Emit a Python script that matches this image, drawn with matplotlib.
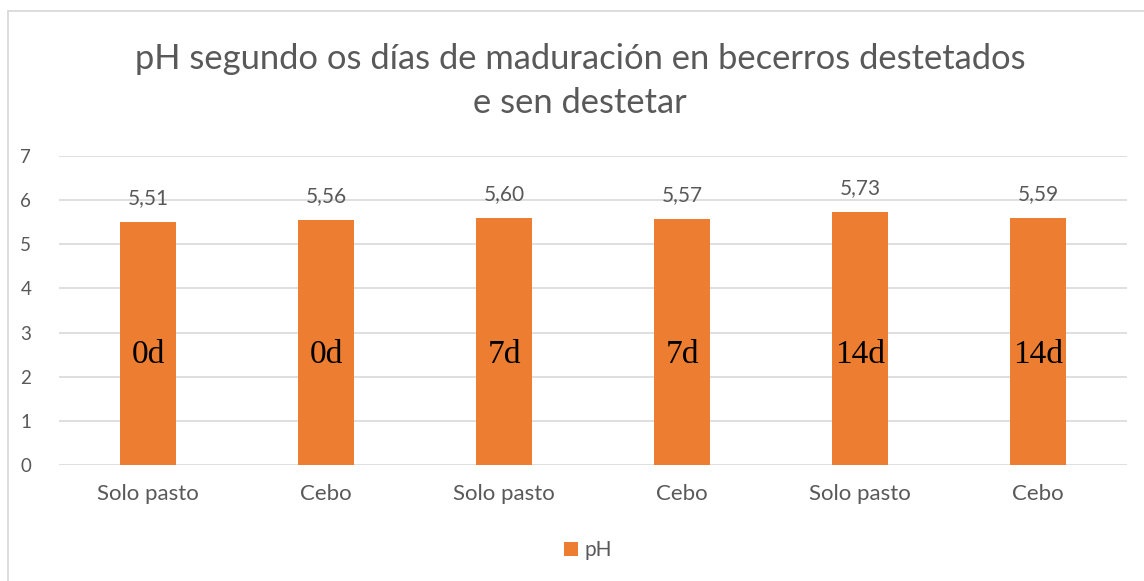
import matplotlib
matplotlib.use("Agg")
import matplotlib.pyplot as plt
from matplotlib.patches import Rectangle
from matplotlib import font_manager

categories = ["Solo pasto", "Cebo", "Solo pasto", "Cebo", "Solo pasto", "Cebo"]
ph_values = [5.51, 5.56, 5.60, 5.57, 5.73, 5.59]
day_labels = ["0d", "0d", "7d", "7d", "14d", "14d"]
series_name = "pH"
title_lines = ["pH segundo os días de maduración en becerros destetados", "e sen destetar"]

ORANGE = "#ED7D31"
TEXT = "#595959"
GRID = "#D9D9D9"

avail = {f.name for f in font_manager.fontManager.ttflist}
sans = "Lato" if "Lato" in avail else "DejaVu Sans"
serif = "Liberation Serif"

W, H = 1144, 581
fig = plt.figure(figsize=(W / 100, H / 100), dpi=100)
fig.patch.set_facecolor("white")

# chart border (runs off the right and bottom edges)
fig.add_artist(Rectangle((7.5 / W, -0.05), 1.2, 1 - 11 / H + 0.05,
                         transform=fig.transFigure, fill=False,
                         edgecolor=GRID, linewidth=1.3))

left, right, top_px, bot_px = 59, 1127, 156, 465
ax = fig.add_axes([left / W, 1 - bot_px / H, (right - left) / W, (bot_px - top_px) / H])

x = list(range(len(categories)))
bars = ax.bar(x, ph_values, width=0.315, color=ORANGE, zorder=3, label=series_name)

ax.set_xlim(-0.5, len(categories) - 0.5)
ax.set_ylim(0, 7)
ax.set_yticks(range(0, 8))
ax.set_xticks(x)
ax.set_xticklabels(categories)
for s in ax.spines.values():
    s.set_visible(False)
ax.grid(axis="y", color=GRID, linewidth=1.2, zorder=0)
ax.tick_params(axis="both", length=0, colors=TEXT)
ax.tick_params(axis="y", pad=20, labelsize=13.5)
ax.tick_params(axis="x", pad=14, labelsize=16)
for lab in ax.get_xticklabels() + ax.get_yticklabels():
    lab.set_family(sans)

for xi, v, d in zip(x, ph_values, day_labels):
    ax.annotate(f"{v:.2f}".replace(".", ","), (xi, v), xytext=(0, 10),
                textcoords="offset points", ha="center", va="bottom",
                fontsize=15, color=TEXT, family=sans)
    ax.text(xi, 2.5, d, ha="center", va="center", fontsize=24,
            color="black", family=serif, zorder=4)

fig.text(0.507, 1 - 59 / H, title_lines[0], ha="center", va="center",
         fontsize=24.8, color=TEXT, family=sans)
fig.text(0.507, 1 - 103 / H, title_lines[1], ha="center", va="center",
         fontsize=24.8, color=TEXT, family=sans)

fig.legend(handles=[bars], labels=[series_name], loc="center",
           bbox_to_anchor=(588 / W, 1 - 550 / H), frameon=False,
           prop={"family": sans, "size": 15}, labelcolor=TEXT,
           handlelength=0.68, handleheight=0.68, handletextpad=0.3)

fig.savefig("out.png", dpi=100, facecolor="white")
